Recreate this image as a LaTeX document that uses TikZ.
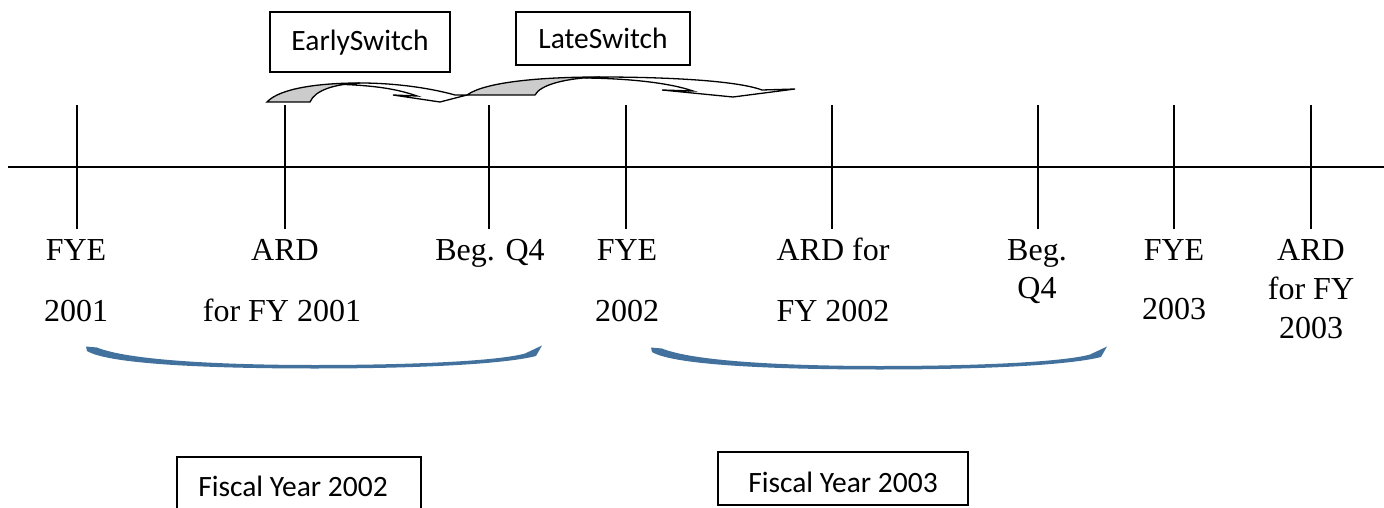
\documentclass[tikz,border=0pt]{standalone}
\usepackage{fontspec}
\setmainfont{Liberation Serif}
\newfontfamily\calibri{Carlito}
\definecolor{brkblue}{RGB}{65,113,156}
\definecolor{shade}{RGB}{204,204,204}
\tikzset{
  lbl/.style={inner sep=0pt, anchor=base, font=\fontsize{32}{38}\selectfont},
  boxtxt/.style={inner sep=0pt, anchor=base, font=\calibri\fontsize{29.5}{35}\selectfont},
  frame/.style={draw=black, line width=1.3pt},
  axis/.style={draw=black, line width=2pt},
  swarrow/.style={draw=black, line width=1.3pt, line join=miter},
  brk/.style={fill=brkblue}
}
\begin{document}
\begin{tikzpicture}[x=1pt,y=-1pt]
\useasboundingbox (0,0) rectangle (1384,508);

% timeline
\coordinate (L) at (8,167);
\coordinate (R) at (1384,167);
\draw[axis] (L) -- (R);
\foreach \x/\n in {77/t1,285/t2,489/t3,626/t4,832/t5,1038/t6,1174/t7,1311/t8}{
  \coordinate (\n a) at (\x,105);
  \coordinate (\n b) at (\x,229);
  \draw[axis] (\n a) -- (\n b);
}

% labels
\node[lbl] (fye1) at (76,260) {FYE};
\node[lbl] (y1) at (76,321) {2001};
\node[lbl] (ard1) at (285,260) {ARD};
\node[lbl] (ard1b) at (282,321) {for FY 2001};
\node[lbl] (bq1) at (490,260) {Beg. Q4};
\node[lbl] (fye2) at (627,260) {FYE};
\node[lbl] (y2) at (627,321) {2002};
\node[lbl] (ard2) at (833,260) {ARD for};
\node[lbl] (ard2b) at (833,321) {FY 2002};
\node[lbl] (bq2a) at (1037,260) {Beg.};
\node[lbl] (bq2b) at (1037,298) {Q4};
\node[lbl] (fye3) at (1174,260) {FYE};
\node[lbl] (y3) at (1174,319) {2003};
\node[lbl] (ard3) at (1311,260) {ARD};
\node[lbl] (ard3b) at (1311,299) {for FY};
\node[lbl] (ard3c) at (1311,338) {2003};

% switch boxes
\draw[frame] (270,12) rectangle (450,72);
\node[boxtxt] (early) at (360,51) {EarlySwitch};
\draw[frame] (516,12) rectangle (690,65);
\node[boxtxt] (late) at (603,49) {LateSwitch};

% curved arrow 1
\draw[swarrow, fill=white] (360,83) .. controls (395,83) and (430,88) .. (455,95)
  -- (467,95) -- (440,102) -- (393,95) -- (417,96)
  .. controls (400,90) and (380,86) .. (345,84.5) -- cycle;
\draw[swarrow, fill=shade] (267,102) .. controls (280,88) and (320,83) .. (360,83)
  .. controls (335,84) and (315,90) .. (310,102) -- cycle;

% curved arrow 2
\draw[swarrow, fill=white] (600,77) .. controls (660,77) and (735,80) .. (762,90)
  -- (795,89) -- (733,97) -- (662,90) -- (693,91)
  .. controls (670,83) and (630,78.5) .. (585,78) -- cycle;
\draw[swarrow, fill=shade] (467,95) .. controls (485,82) and (540,77) .. (600,77)
  .. controls (565,78) and (540,85) .. (535,95) -- cycle;

% blue brackets
\foreach \dx/\dy in {0/0,565/1}{
  \begin{scope}[shift={(\dx,\dy)}]
    \fill[brk] (86,346.5) -- (97,347.5) .. controls (130,361) and (230,365) .. (315,365)
      .. controls (420,365) and (500,360.5) .. (525,353.5) -- (542,345.5) -- (536,356)
      .. controls (505,364) and (420,368.5) .. (315,368.5)
      .. controls (220,368.5) and (110,365) .. (87,351) -- cycle;
  \end{scope}
}

% fiscal year boxes
\draw[frame] (177,520) -- (177,457) -- (421,457) -- (421,520);
\node[boxtxt] (fy2) at (293,496) {Fiscal Year 2002};
\draw[frame] (718,452) rectangle (968,505);
\node[boxtxt] (fy3) at (843,492) {Fiscal Year 2003};
\end{tikzpicture}
\end{document}
